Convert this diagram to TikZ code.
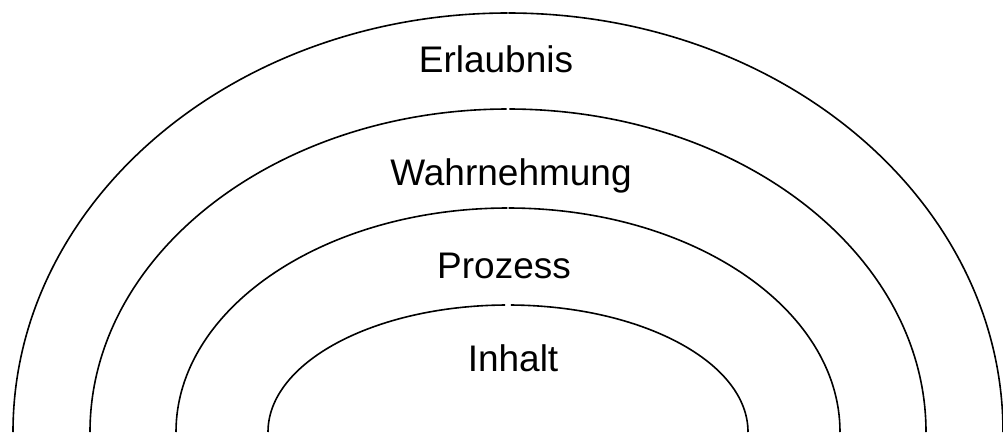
\documentclass[tikz,border=0pt]{standalone}
\usepackage{fontspec}
\setmainfont{Liberation Sans}
\begin{document}
\begin{tikzpicture}[x=1pt,y=1pt,
  ring/.style={line width=1.6pt, black},
  lbl/.style={font=\fontsize{37}{44}\selectfont, anchor=base, inner sep=0pt}]
\useasboundingbox (0,0) rectangle (1003,432);
\coordinate (c) at (508,0);
\foreach \a/\b/\g in {495/419/0.05, 418/323/0.2, 332/224/0.1, 240/127/0.7} {
  \draw[ring] (c) ++(180:\a pt and \b pt) arc[start angle=180, end angle={90+\g}, x radius=\a, y radius=\b];
  \draw[ring] (c) ++({90-\g}:\a pt and \b pt) arc[start angle={90-\g}, end angle=0, x radius=\a, y radius=\b];
}
\node[lbl] (erl) at (496,359) {Erlaubnis};
\node[lbl] (wahr) at (511,247) {Wahrnehmung};
\node[lbl] (proz) at (504,154) {Prozess};
\node[lbl] (inh) at (513,61) {Inhalt};
\end{tikzpicture}
\end{document}
